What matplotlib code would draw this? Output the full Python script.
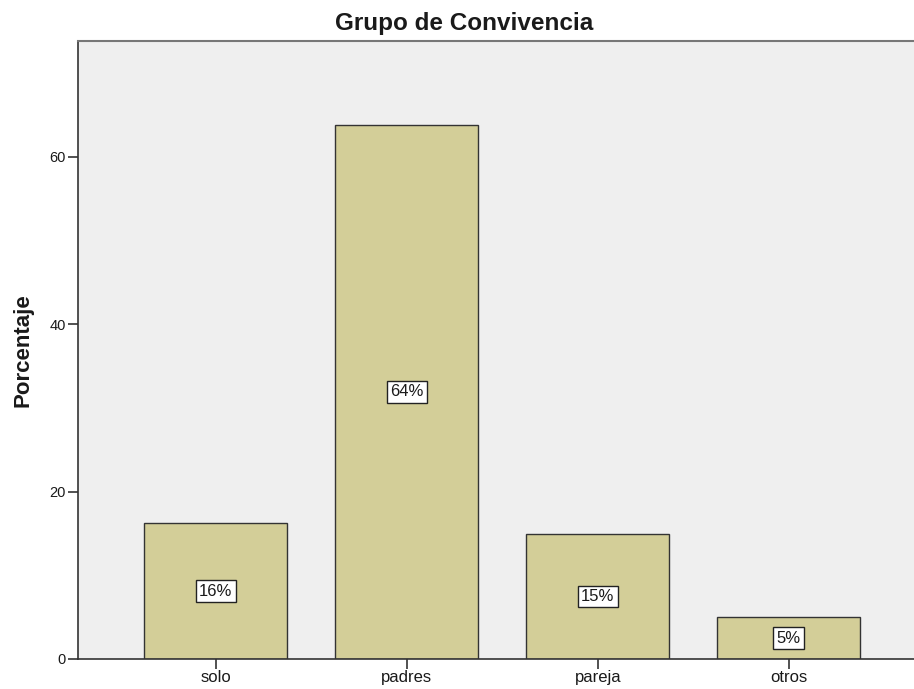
import matplotlib.pyplot as plt

plt.rcParams['font.family'] = ['Liberation Sans', 'DejaVu Sans']

categorias = ["solo", "padres", "pareja", "otros"]
porcentajes = [16.2, 63.8, 14.9, 5.0]
yticks = [0, 20, 40, 60]

fig = plt.figure(figsize=(9.14, 6.89), dpi=100)
ax = fig.add_axes([78 / 914, 30 / 689, 1 - 78 / 914, 618 / 689])
ax.set_facecolor("#efefef")

x = list(range(len(categorias)))
ax.bar(x, porcentajes, width=0.75, color="#d3ce98",
       edgecolor="#333333", linewidth=1.0, zorder=2)

# etiqueta de porcentaje en el centro de cada barra
for xi, v in zip(x, porcentajes):
    ax.text(xi, v / 2, f"{v:.0f}%", ha="center", va="center", fontsize=12,
            color="#1a1a1a", zorder=3,
            bbox=dict(boxstyle="square,pad=0.2", facecolor="white",
                      edgecolor="#222222", linewidth=1.0))

ax.set_xlim(-0.72, 3.655)
ax.set_ylim(0, 73.8)
ax.set_xticks(x)
ax.set_xticklabels(categorias, fontsize=12, color="#1a1a1a")
ax.set_yticks(yticks)
ax.set_yticklabels([str(t) for t in yticks], fontsize=10.5, color="#1a1a1a")
ax.tick_params(axis="both", direction="out", length=7.2, width=1.2, color="#333333")
ax.tick_params(axis="x", pad=1)
ax.tick_params(axis="y", pad=1.5)

ax.spines["left"].set_color("#333333")
ax.spines["left"].set_linewidth(1.2)
ax.spines["bottom"].set_color("#333333")
ax.spines["bottom"].set_linewidth(1.2)
ax.spines["top"].set_color("#777777")
ax.spines["top"].set_linewidth(1.5)
ax.spines["right"].set_visible(False)

fig.text(23 / 914, (689 - 350) / 689, "Porcentaje", rotation=90, ha="center", va="center",
         fontsize=16, fontweight="bold", color="#1a1a1a")
fig.text(464 / 914, (689 - 30) / 689, "Grupo de Convivencia", ha="center", va="baseline",
         fontsize=17.5, fontweight="bold", color="#1a1a1a")

fig.savefig("out.png", dpi=100)
